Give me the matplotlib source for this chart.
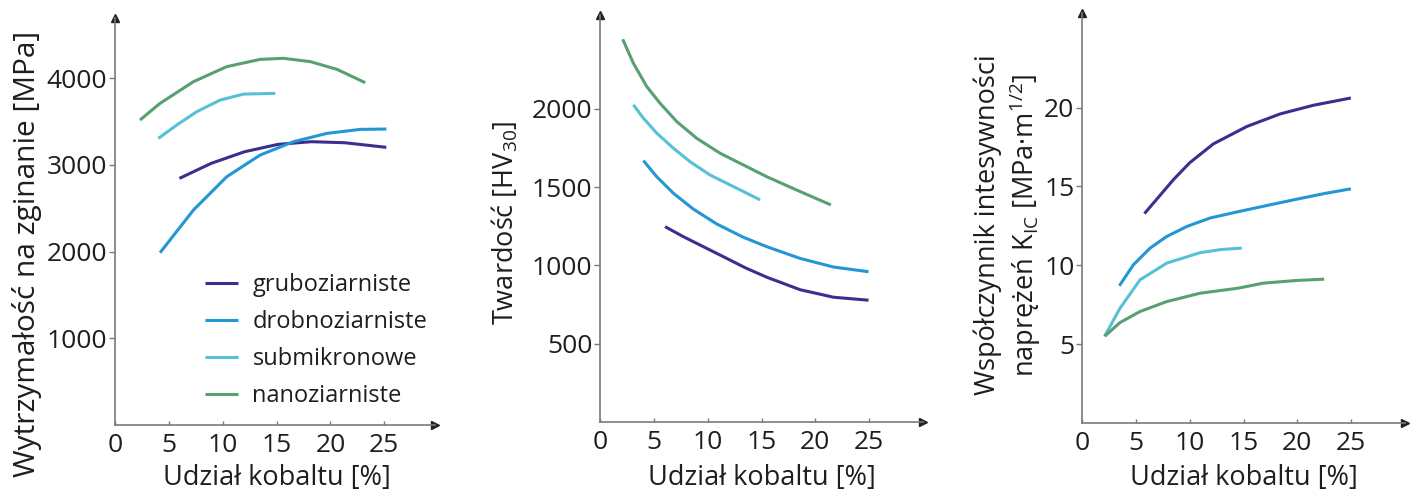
import matplotlib
matplotlib.use("Agg")
import matplotlib.pyplot as plt

plt.rcParams['font.family'] = ['Open Sans', 'DejaVu Sans']
plt.rcParams['mathtext.default'] = 'regular'

# kolory serii
series = ['gruboziarniste', 'drobnoziarniste', 'submikronowe', 'nanoziarniste']
colors = ['#3b2e8e', '#2396d4', '#56c1d6', '#57a070']

# wytrzymalosc na zginanie [MPa]
bend_x = {
    'gruboziarniste': [5.98, 8.92, 12.02, 15.12, 18.22, 21.32, 25.18],
    'drobnoziarniste': [4.18, 7.28, 10.37, 13.47, 16.57, 19.67, 22.77, 25.18],
    'submikronowe': [4.03, 5.73, 7.59, 9.76, 11.93, 14.87],
    'nanoziarniste': [2.32, 4.18, 7.28, 10.37, 13.47, 15.64, 18.12, 20.6, 23.23],
}
bend_y = {
    'gruboziarniste': [2843, 3016, 3150, 3235, 3266, 3254, 3201],
    'drobnoziarniste': [1986, 2478, 2862, 3112, 3266, 3362, 3408, 3412],
    'submikronowe': [3305, 3458, 3612, 3746, 3815, 3823],
    'nanoziarniste': [3516, 3708, 3958, 4131, 4215, 4227, 4189, 4100, 3946],
}

# twardosc HV30
hard_x = {
    'gruboziarniste': [6.04, 7.74, 9.6, 11.46, 13.5, 15.49, 18.59, 21.69, 24.94],
    'drobnoziarniste': [4.03, 5.27, 6.82, 8.67, 10.84, 13.32, 15.49, 18.59, 21.69, 24.94],
    'submikronowe': [3.1, 4.03, 5.27, 6.82, 8.36, 10.22, 12.39, 14.87],
    'nanoziarniste': [2.11, 3.1, 4.34, 5.58, 7.13, 8.99, 11.15, 13.32, 15.49, 18.59, 21.44],
}
hard_y = {
    'gruboziarniste': [1248, 1184, 1120, 1056, 985, 925, 845, 797, 778],
    'drobnoziarniste': [1670, 1567, 1461, 1360, 1265, 1180, 1120, 1045, 990, 960],
    'submikronowe': [2026, 1941, 1845, 1749, 1663, 1578, 1504, 1419],
    'nanoziarniste': [2445, 2292, 2143, 2036, 1919, 1812, 1717, 1642, 1567, 1472, 1387],
}

# wspolczynnik K_IC
kic_x = {
    'gruboziarniste': [5.8, 8.49, 10.0, 12.2, 15.3, 18.4, 21.5, 24.97],
    'drobnoziarniste': [3.47, 4.77, 6.32, 7.87, 9.73, 11.9, 14.37, 17.5, 20.0, 22.5, 24.97],
    'submikronowe': [2.1, 3.53, 5.39, 7.87, 10.97, 12.9, 14.84],
    'nanoziarniste': [2.1, 3.53, 5.39, 7.87, 10.97, 14.5, 16.85, 19.95, 22.49],
}
kic_y = {
    'gruboziarniste': [13.28, 15.43, 16.5, 17.7, 18.8, 19.6, 20.15, 20.61],
    'drobnoziarniste': [8.7, 10.03, 11.09, 11.83, 12.46, 13.0, 13.38, 13.84, 14.2, 14.55, 14.85],
    'submikronowe': [5.5, 7.28, 9.08, 10.14, 10.8, 11.0, 11.09],
    'nanoziarniste': [5.5, 6.37, 7.07, 7.7, 8.23, 8.55, 8.87, 9.04, 9.12],
}

x_ticks = [0, 5, 10, 15, 20, 25]
bend_ticks = [1000, 2000, 3000, 4000]
hard_ticks = [500, 1000, 1500, 2000]
kic_ticks = [5, 10, 15, 20]

W, H = 1415, 495
fig = plt.figure(figsize=(W / 100, H / 100), dpi=100)
fig.patch.set_facecolor('white')

axcol = '#7a7a7a'
txtcol = '#1e1e1e'
fs = 19
fs_lab = 19.5


def make_ax(x0, y0, x1, y1, xmax, ymax):
    # x0,y0 = poczatek ukladu w px, x1,y1 = konce strzalek
    ax = fig.add_axes([x0 / W, (H - y0) / H, (x1 - x0) / W, (y0 - y1) / H])
    ax.set_xlim(0, xmax)
    ax.set_ylim(0, ymax)
    for s in ['top', 'right']:
        ax.spines[s].set_visible(False)
    for s in ['left', 'bottom']:
        ax.spines[s].set_color(axcol)
        ax.spines[s].set_linewidth(1.2)
    ax.tick_params(axis='x', direction='in', length=3, width=1, color=axcol,
                   labelsize=fs, labelcolor=txtcol, pad=6)
    ax.tick_params(axis='y', direction='out', length=4, width=1, color=axcol,
                   labelsize=fs, labelcolor=txtcol, pad=1.5)
    ax.plot(1, 0, '>', color='#222222', ms=6, transform=ax.get_yaxis_transform(), clip_on=False)
    ax.plot(0, 1, '^', color='#222222', ms=6, transform=ax.get_xaxis_transform(), clip_on=False)
    ax.set_xticks(x_ticks)
    ax.set_facecolor('none')
    return ax


def draw(ax, xs, ys):
    for name, c in zip(series, colors):
        ax.plot(xs[name], ys[name], color=c, lw=2.2, solid_capstyle='butt',
                solid_joinstyle='round', label=name)


def labels(ax, xl, xc, yl, yc, yfs=fs_lab, **kw):
    ax.set_xlabel(xl, fontsize=fs_lab, color=txtcol)
    ax.xaxis.set_label_coords(*xc)
    ax.xaxis.label.set_va('center')
    ax.set_ylabel(yl, fontsize=yfs, color=txtcol, **kw)
    ax.yaxis.set_label_coords(*yc)
    ax.yaxis.label.set_va('center')


# panel 1
ax1 = make_ax(115, 425, 435, 18, 29.7, 4692)
ax1.set_yticks(bend_ticks)
draw(ax1, bend_x, bend_y)
labels(ax1, 'Udział kobaltu [%]', (0.505, -0.13),
       'Wytrzymałość na zginanie [MPa]', (-0.275, 0.42), yfs=21.5)
ax1.legend(loc='upper left', bbox_to_anchor=(184 / W, (H - 252) / H),
           bbox_transform=fig.transFigure, frameon=False, fontsize=17,
           handlelength=1.4, handletextpad=0.6, labelspacing=0.55,
           borderpad=0.4, labelcolor=txtcol)

# panel 2
ax2 = make_ax(600, 422, 923, 15, 30.0, 2600)
ax2.set_yticks(hard_ticks)
draw(ax2, hard_x, hard_y)
labels(ax2, 'Udział kobaltu [%]', (0.50, -0.138),
       'Twardość [HV$_{30}$]', (-0.294, 0.49))

# panel 3
ax3 = make_ax(1082, 423, 1405, 13, 30.0, 26.0)
ax3.set_yticks(kic_ticks)
draw(ax3, kic_x, kic_y)
labels(ax3, 'Udział kobaltu [%]', (0.50, -0.135),
       'Współczynnik intesywności\nnaprężeń K$_{IC}$ [MPa·m$^{1/2}$]', (-0.229, 0.483),
       linespacing=1.2)

fig.savefig('out.png', dpi=100, facecolor='white')
